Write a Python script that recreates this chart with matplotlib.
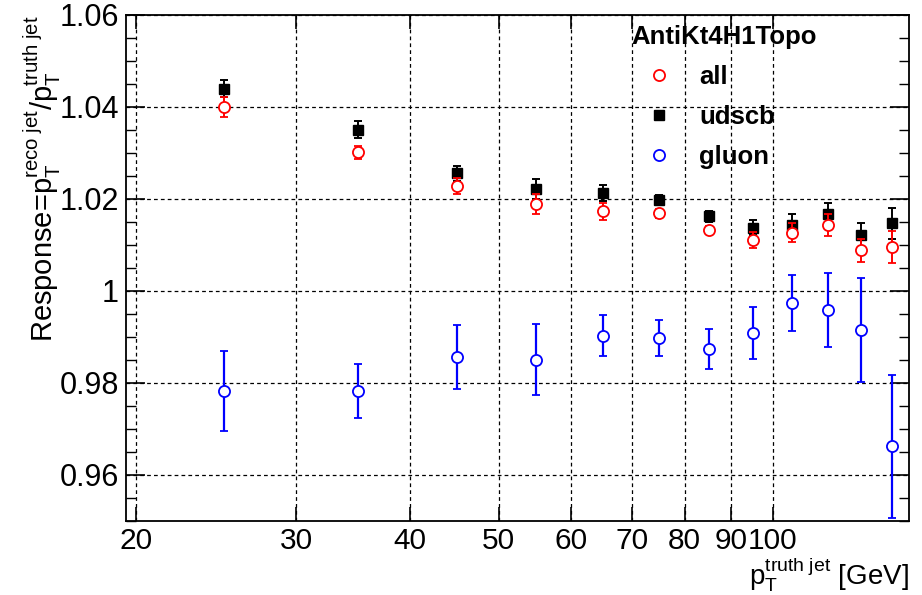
import matplotlib
matplotlib.use("Agg")
import matplotlib.pyplot as plt
from matplotlib.lines import Line2D
from matplotlib.ticker import FixedLocator, MultipleLocator, FuncFormatter, NullLocator

plt.rcParams['font.family'] = ['Liberation Sans', 'DejaVu Sans']
plt.rcParams['mathtext.fontset'] = 'custom'
plt.rcParams['mathtext.rm'] = 'Liberation Sans'
plt.rcParams['mathtext.it'] = 'Liberation Sans:italic'
plt.rcParams['mathtext.bf'] = 'Liberation Sans:bold'

# ---- data ----
pt_centers = [25, 35, 45, 55, 65, 75, 85, 95, 105, 115, 125, 135]
resp_all = [1.0400, 1.0302, 1.0228, 1.0189, 1.0173, 1.0169, 1.0132, 1.0111, 1.0127, 1.0144, 1.0089, 1.0096]
err_all = [0.0022, 0.0014, 0.0017, 0.0022, 0.0019, 0.0010, 0.0009, 0.0018, 0.0021, 0.0024, 0.0025, 0.0035]
resp_udscb = [1.0440, 1.0351, 1.0256, 1.0221, 1.0213, 1.0197, 1.0162, 1.0138, 1.0143, 1.0168, 1.0121, 1.0147]
err_udscb = [0.0019, 0.0018, 0.0016, 0.0022, 0.0018, 0.0011, 0.0012, 0.0017, 0.0024, 0.0024, 0.0027, 0.0033]
resp_gluon = [0.9783, 0.9782, 0.9856, 0.9851, 0.9903, 0.9898, 0.9874, 0.9909, 0.9974, 0.9959, 0.9915, 0.9662]
err_gluon = [0.0087, 0.0059, 0.0070, 0.0078, 0.0045, 0.0040, 0.0043, 0.0057, 0.0061, 0.0080, 0.0113, 0.0156]

x_ticks = [20, 30, 40, 50, 60, 70, 80, 90, 100]
y_ticks = [0.96, 0.98, 1.00, 1.02, 1.04, 1.06]
legend_title = "AntiKt4H1Topo"
labels = ["all", "udscb", "gluon"]

W, H = 922, 595
fig = plt.figure(figsize=(W / 100, H / 100), dpi=100)
ax = fig.add_axes([126 / W, 1 - 521 / H, (909 - 126) / W, (521 - 15) / H])

ax.set_xscale('log')
ax.set_xlim(19.5, 141)
ax.set_ylim(0.95, 1.06)

ms = 8
ew = 1.3
cap = 2.8
ax.errorbar(pt_centers, resp_udscb, yerr=err_udscb, fmt='s', color='black', ms=ms - 0.5,
            mfc='black', mec='black', elinewidth=1.4, capsize=cap, capthick=1.4, zorder=3)
ax.errorbar(pt_centers, resp_all, yerr=err_all, fmt='o', color='red', ms=ms,
            mfc='white', mec='red', mew=ew, elinewidth=1.4, capsize=cap, capthick=1.4, zorder=4)
ax.errorbar(pt_centers, resp_gluon, yerr=err_gluon, fmt='o', color='blue', ms=ms,
            mfc='white', mec='blue', mew=ew, elinewidth=1.6, capsize=cap, capthick=1.6, zorder=4)

# ticks
ax.xaxis.set_major_locator(FixedLocator(x_ticks))
ax.xaxis.set_minor_locator(NullLocator())
ax.xaxis.set_major_formatter(FuncFormatter(lambda v, p: f"{v:g}"))
ax.yaxis.set_major_locator(FixedLocator(y_ticks))
ax.yaxis.set_minor_locator(MultipleLocator(0.005))
ax.yaxis.set_major_formatter(FuncFormatter(lambda v, p: f"{round(v, 2):g}"))
ax.tick_params(axis='both', which='both', direction='in', top=True, right=True,
               labelsize=22, colors='black')
ax.tick_params(axis='x', labelsize=21.5)
ax.tick_params(axis='y', which='major', length=14, width=1.2, pad=5)
ax.tick_params(axis='y', which='minor', length=7, width=1.0)
ax.tick_params(axis='x', which='major', length=10, width=1.2, pad=4)

ax.grid(True, which='major', color='black', linestyle=(0, (3, 2.5)), linewidth=0.9)
ax.set_axisbelow(True)
for s in ax.spines.values():
    s.set_linewidth(1.3)

# legend
handles = [
    Line2D([], [], linestyle='none', marker='o', ms=ms, mfc='white', mec='red', mew=ew),
    Line2D([], [], linestyle='none', marker='s', ms=ms - 1, mfc='black', mec='black'),
    Line2D([], [], linestyle='none', marker='o', ms=ms, mfc='white', mec='blue', mew=ew),
]
leg = ax.legend(handles, labels, title=legend_title, loc='upper left',
                bbox_to_anchor=(631 / W, 1 - 25 / H), bbox_transform=fig.transFigure,
                frameon=False, fontsize=18.5, title_fontsize=18.5, alignment='left',
                handlelength=2.2, handletextpad=0.45, labelspacing=0.62,
                borderpad=0, borderaxespad=0, handleheight=0.7)
leg.get_title().set_fontweight('bold')
for t in leg.get_texts():
    t.set_fontweight('bold')

# axis titles
fig.text(42 / W, 1 - 15 / H,
         r'Response=p$_{\mathrm{T}}^{\mathrm{reco\ jet}}$/p$_{\mathrm{T}}^{\mathrm{truth\ jet}}$',
         rotation=90, ha='center', va='top', fontsize=21)
fig.text(909 / W, 1 - 585 / H, r'p$_{\mathrm{T}}^{\mathrm{truth\ jet}}$ [GeV]',
         ha='right', va='baseline', fontsize=20)

fig.savefig('out.png', dpi=100)
